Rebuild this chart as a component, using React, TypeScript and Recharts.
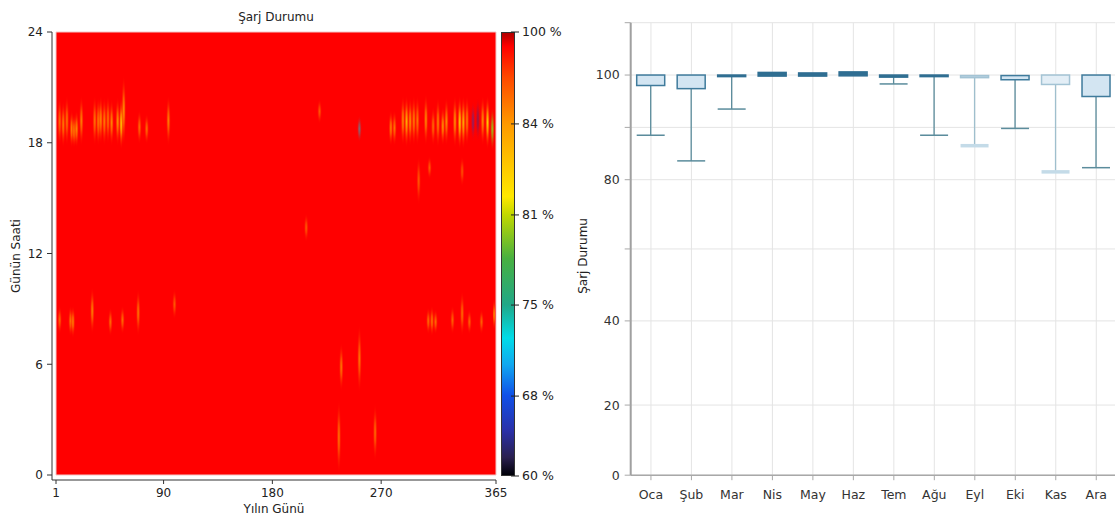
import React from 'react';
import { ComposedChart, XAxis, YAxis, ReferenceArea, Bar, CartesianGrid } from 'recharts';

const FONT = '"DejaVu Sans", Verdana, sans-serif';

// ---- Sol grafik: günün saati x yılın günü ısı haritası ----
const DAY_TICKS = [1, 90, 180, 270, 365];
const HOUR_TICKS = [0, 6, 12, 18, 24];

// [gün, başlangıç saati, bitiş saati, en düşük şarj %]
const EVENING_STREAKS: [number, number, number, number][] = [
  [4, 17.8, 20.5, 88], [7, 17.7, 20.3, 86], [10, 17.8, 20.6, 87], [14, 17.7, 19.8, 85],
  [16, 17.7, 19.6, 86], [18, 17.7, 19.8, 85], [22, 17.8, 20.6, 86], [33, 17.8, 20.6, 87],
  [36, 17.8, 20.5, 86], [38, 17.9, 20.6, 85], [41, 17.8, 20.5, 86], [44, 17.9, 20.6, 87],
  [47, 17.8, 20.4, 85], [52, 17.8, 20.5, 84], [55, 17.6, 20.5, 82], [57, 17.8, 21.7, 84],
  [70, 17.9, 19.8, 88], [76, 17.9, 19.6, 88], [94, 17.8, 20.6, 86], [219, 19.0, 20.4, 90],
  [252, 18.0, 19.5, 72], [278, 17.8, 19.8, 86], [281, 17.8, 19.8, 87], [288, 17.8, 20.6, 85],
  [291, 17.7, 20.6, 83], [294, 17.8, 20.5, 84], [297, 17.8, 20.6, 86], [300, 17.8, 20.6, 87],
  [307, 17.8, 20.7, 85], [313, 17.8, 20.0, 88], [317, 17.7, 20.5, 86], [321, 17.8, 20.0, 84],
  [324, 17.8, 20.5, 85], [331, 17.7, 20.6, 84], [335, 17.6, 20.6, 82], [338, 17.6, 20.6, 83],
  [341, 17.8, 20.6, 86], [346, 18.0, 20.3, 66], [350, 18.0, 20.5, 64], [354, 17.8, 20.6, 85],
  [358, 17.6, 20.6, 82], [362, 17.5, 20.0, 80],
];

const MORNING_STREAKS: [number, number, number, number][] = [
  [4, 7.6, 9.2, 89], [13, 7.5, 9.2, 87], [15, 7.4, 9.2, 86], [31, 7.6, 10.2, 86],
  [46, 7.5, 9.1, 88], [56, 7.6, 9.2, 88], [69, 7.5, 10.1, 87], [99, 8.4, 10.1, 90],
  [309, 7.6, 9.1, 88], [312, 7.5, 9.2, 87], [315, 7.6, 9.0, 88], [329, 7.6, 9.2, 89],
  [337, 7.5, 10.0, 88], [343, 7.6, 9.0, 89], [353, 7.6, 9.0, 89], [364, 7.8, 9.6, 84],
];

const OTHER_STREAKS: [number, number, number, number][] = [
  [208, 12.6, 14.2, 90], [301, 14.6, 17.3, 90], [310, 16.0, 17.3, 90], [337, 15.6, 17.3, 91],
  [235, 0.0, 4.1, 87], [237, 4.5, 7.2, 87], [252, 4.4, 8.2, 87], [265, 0.7, 3.9, 88],
];

const STREAKS = [...EVENING_STREAKS, ...MORNING_STREAKS, ...OTHER_STREAKS];

// renk skalası etiketleri ve skaladaki yerleri (üstten oran)
const CB_VALUES = [100, 84, 81, 75, 68, 60];
const CB_POS = [0, 0.207, 0.412, 0.615, 0.82, 1];
const CB_STOPS: [number, string][] = [
  [0, '#b00000'], [0.03, '#ff0000'], [0.1, '#ff4800'], [0.207, '#ff9a00'], [0.3, '#ffc800'],
  [0.37, '#ffe800'], [0.412, '#c0d800'], [0.51, '#48b040'], [0.615, '#20a888'], [0.69, '#00dce8'],
  [0.75, '#10a8f0'], [0.82, '#1050e8'], [0.9, '#2a30a8'], [0.96, '#2a2050'], [1, '#000008'],
];

// ---- Sağ grafik: aylık kutu grafiği ----
const MONTHS = ['Oca', 'Şub', 'Mar', 'Nis', 'May', 'Haz', 'Tem', 'Ağu', 'Eyl', 'Eki', 'Kas', 'Ara'];
const SOC_MIN = [88.5, 83.6, 93.5, 99.8, 99.8, 99.85, 98.3, 88.5, 86.5, 89.8, 81.5, 82.3];
const SOC_Q1 = [98.0, 97.4, 99.7, 99.8, 99.8, 99.85, 99.6, 99.7, 99.5, 99.1, 98.2, 95.9];
const SOC_Q3 = [100, 100, 100, 100.5, 100.4, 100.6, 100, 100, 99.9, 99.9, 100, 100];
const FADED_MONTHS = ['Eyl', 'Kas'];

const BOX_TICKS = [0, 20, 40, 60, 80, 90, 100, 110];
const BOX_TICK_LABELS = ['0', '20', '40', '', '80', '', '100', ''];
// eksen kırılımları (değer -> eksen yüksekliği oranı)
const AXIS_STOPS = [0, 20, 40, 60, 80, 110];
const AXIS_FRAC = [0, 0.155, 0.341, 0.5, 0.653, 1];

function hexToRgb(h: string) {
  const n = parseInt(h.slice(1), 16);
  return [(n >> 16) & 255, (n >> 8) & 255, n & 255];
}

function fracColor(f: number) {
  for (let i = 0; i < CB_STOPS.length - 1; i++) {
    const [f0, c0] = CB_STOPS[i];
    const [f1, c1] = CB_STOPS[i + 1];
    if (f >= f0 && f <= f1) {
      const t = (f - f0) / (f1 - f0);
      const a = hexToRgb(c0);
      const b = hexToRgb(c1);
      const m = a.map((v, k) => Math.round(v + (b[k] - v) * t));
      return `rgb(${m[0]},${m[1]},${m[2]})`;
    }
  }
  return CB_STOPS[CB_STOPS.length - 1][1];
}

function socToFrac(v: number) {
  for (let i = 0; i < CB_VALUES.length - 1; i++) {
    const a = CB_VALUES[i];
    const b = CB_VALUES[i + 1];
    if (v <= a && v >= b) return CB_POS[i] + ((a - v) / (a - b)) * (CB_POS[i + 1] - CB_POS[i]);
  }
  return v > 100 ? 0 : 1;
}

function toAxis(v: number) {
  for (let i = 0; i < AXIS_STOPS.length - 1; i++) {
    const s0 = AXIS_STOPS[i];
    const s1 = AXIS_STOPS[i + 1];
    if (v >= s0 && v <= s1) {
      return (AXIS_FRAC[i] + ((v - s0) / (s1 - s0)) * (AXIS_FRAC[i + 1] - AXIS_FRAC[i])) * 100;
    }
  }
  return 100;
}

const boxData = MONTHS.map((m, i) => ({
  month: m,
  whisker: [toAxis(SOC_MIN[i]), toAxis(SOC_Q1[i])],
  box: [toAxis(SOC_Q1[i]), toAxis(SOC_Q3[i])],
}));

function VLabel(props: any) {
  const { viewBox, px, text, dy = 0 } = props;
  const cy = viewBox.y + viewBox.height / 2 + dy;
  return (
    <text
      x={px}
      y={cy}
      transform={`rotate(-90 ${px} ${cy})`}
      textAnchor="middle"
      dominantBaseline="central"
      fontSize={12}
      fill="#222"
      fontFamily={FONT}
    >
      {text}
    </text>
  );
}

function CbTick(props: any) {
  const { x, y, index } = props;
  const label = `${CB_VALUES[index]} %`;
  return (
    <g>
      <line x1={x + 15} x2={x + 23} y1={y} y2={y} stroke="#222" strokeWidth={1} />
      <text x={x + 26} y={y} dy="0.35em" fontSize={12.5} fill="#222" fontFamily={FONT}>
        {label}
      </text>
    </g>
  );
}

function WhiskerShape(props: any) {
  const { x, y, width, height, payload } = props;
  const top = Math.min(y, y + height);
  const h = Math.abs(height);
  if (!(h > 0.5)) return <g />;
  const faded = FADED_MONTHS.includes(payload.month);
  const cx = x + width / 2;
  return (
    <g>
      <line x1={cx} x2={cx} y1={top} y2={top + h} stroke={faded ? '#9fbfcd' : '#5b8c9c'} strokeWidth={1.3} />
      <line
        x1={x}
        x2={x + width}
        y1={top + h}
        y2={top + h}
        stroke={faded ? '#c4dbe8' : '#5b8c9c'}
        strokeWidth={faded ? 3.5 : 1.5}
      />
    </g>
  );
}

function BoxShape(props: any) {
  const { x, y, width, height, payload } = props;
  const top = Math.min(y, y + height);
  const h = Math.abs(height);
  const faded = FADED_MONTHS.includes(payload.month);
  const thin = h < 4;
  const stroke = faded ? '#a3c3d4' : '#3f7b9c';
  return (
    <rect
      x={x}
      y={top}
      width={width}
      height={Math.max(h, 0.5)}
      fill={thin ? (faded ? '#b9d3e2' : '#2f6e92') : faded ? '#e3eef6' : '#d3e5f2'}
      stroke={thin && !faded ? '#2f6e92' : stroke}
      strokeWidth={1.5}
    />
  );
}

const cbGradient = `linear-gradient(to bottom, ${CB_STOPS.map(([f, c]) => `${c} ${f * 100}%`).join(', ')})`;

function Heatmap() {
  return (
    <div style={{ position: 'absolute', left: 0, top: 0, width: 580, height: 516 }}>
      <svg width={0} height={0} style={{ position: 'absolute' }}>
        <defs>
          {STREAKS.map(([, , , soc], i) => {
            const c = fracColor(socToFrac(soc));
            const op = soc < 78 ? 0.5 : 0.92;
            return (
              <radialGradient key={i} id={`streak-${i}`} cx="50%" cy="50%" r="50%">
                <stop offset="0%" stopColor={c} stopOpacity={op} />
                <stop offset="35%" stopColor={c} stopOpacity={op * 0.65} />
                <stop offset="100%" stopColor="#ff0000" stopOpacity={0} />
              </radialGradient>
            );
          })}
        </defs>
      </svg>
      <div
        style={{
          position: 'absolute',
          left: 176,
          top: 10,
          width: 200,
          textAlign: 'center',
          fontSize: 12,
          fontFamily: FONT,
          color: '#222',
        }}
      >
        Şarj Durumu
      </div>
      <div
        style={{
          position: 'absolute',
          left: 501,
          top: 32,
          width: 14,
          height: 444,
          boxSizing: 'border-box',
          border: '1px solid #333',
          background: cbGradient,
        }}
      />
      <ComposedChart width={580} height={516} margin={{ top: 32, right: 0, bottom: 0, left: 0 }}>
        <XAxis
          xAxisId="d"
          type="number"
          dataKey="day"
          domain={[1, 365]}
          ticks={DAY_TICKS}
          allowDataOverflow
          padding={{ left: 4, right: 0 }}
          height={36}
          tickSize={4}
          tickMargin={4}
          axisLine={{ stroke: '#333' }}
          tickLine={{ stroke: '#333' }}
          tick={{ fontSize: 12, fill: '#222', fontFamily: FONT }}
          label={{
            value: 'Yılın Günü',
            position: 'insideBottom',
            offset: 3,
            fontSize: 12,
            fill: '#222',
            fontFamily: FONT,
          }}
        />
        <YAxis
          yAxisId="h"
          type="number"
          domain={[0, 24]}
          ticks={HOUR_TICKS}
          allowDataOverflow
          padding={{ top: 0, bottom: 5 }}
          width={52}
          tickSize={5}
          tickMargin={4}
          axisLine={{ stroke: '#333' }}
          tickLine={{ stroke: '#333' }}
          tick={{ fontSize: 12, fill: '#222', fontFamily: FONT }}
          label={<VLabel px={16} text="Günün Saati" />}
        />
        <YAxis
          yAxisId="cb"
          orientation="right"
          type="number"
          domain={[0, 1]}
          ticks={CB_POS.map((p) => 1 - p)}
          interval={0}
          allowDataOverflow
          padding={{ top: 0, bottom: 4 }}
          width={84}
          axisLine={false}
          tickLine={false}
          tickSize={0}
          tickMargin={0}
          tick={<CbTick />}
        />
        <ReferenceArea
          xAxisId="d"
          yAxisId="h"
          x1={1}
          x2={365}
          y1={0}
          y2={24}
          fill="#ff0000"
          fillOpacity={1}
          stroke="#f2c6c6"
          strokeWidth={1}
        />
        {STREAKS.map(([day, from, to], i) => (
          <ReferenceArea
            key={i}
            xAxisId="d"
            yAxisId="h"
            x1={Math.max(1, day - 2.1)}
            x2={Math.min(365, day + 2.1)}
            y1={from}
            y2={to}
            fill={`url(#streak-${i})`}
            fillOpacity={1}
            stroke="none"
          />
        ))}
      </ComposedChart>
    </div>
  );
}

function BoxPlot() {
  return (
    <div style={{ position: 'absolute', left: 560, top: 0, width: 560, height: 516 }}>
      <ComposedChart
        width={560}
        height={516}
        data={boxData}
        barGap={-28}
        margin={{ top: 22.7, right: 3.5, bottom: 0, left: 0 }}
      >
        <CartesianGrid stroke="#e4e4e4" strokeWidth={1} />
        <XAxis
          dataKey="month"
          type="category"
          height={40.8}
          interval={0}
          tickSize={5}
          tickMargin={10}
          axisLine={{ stroke: '#a8a8a8', strokeWidth: 1.5 }}
          tickLine={{ stroke: '#a8a8a8' }}
          tick={{ fontSize: 12.5, fill: '#333', fontFamily: FONT }}
        />
        <YAxis
          type="number"
          domain={[0, 100]}
          ticks={BOX_TICKS.map(toAxis)}
          interval={0}
          width={70.7}
          tickSize={6}
          tickMargin={5}
          axisLine={{ stroke: '#a0a0a0', strokeWidth: 2 }}
          tickLine={{ stroke: '#a8a8a8' }}
          tick={{ fontSize: 12.5, fill: '#333', fontFamily: FONT }}
          tickFormatter={(_v: number, i: number) => BOX_TICK_LABELS[i]}
          label={<VLabel px={23} dy={7} text="Şarj Durumu" />}
        />
        <Bar dataKey="whisker" barSize={28} shape={WhiskerShape} isAnimationActive={false} />
        <Bar dataKey="box" barSize={28} shape={BoxShape} isAnimationActive={false} />
      </ComposedChart>
    </div>
  );
}

export default function App() {
  return (
    <div
      style={{
        position: 'fixed',
        left: 0,
        top: 0,
        width: 1115,
        height: 516,
        overflow: 'hidden',
        background: '#fff',
        fontFamily: FONT,
      }}
    >
      <Heatmap />
      <BoxPlot />
    </div>
  );
}
